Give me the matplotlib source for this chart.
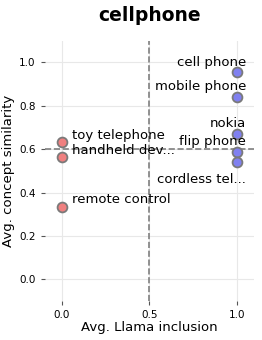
import numpy as np
import matplotlib.pyplot as plt

# data
left_names = ['toy telephone', 'handheld dev...', 'remote control']
left_x = [0.0, 0.0, 0.0]
left_y = [0.635, 0.562, 0.335]

right_names = ['cell phone', 'mobile phone', 'nokia', 'flip phone', 'cordless tel...']
right_x = [1.0, 1.0, 1.0, 1.0, 1.0]
right_y = [0.957, 0.842, 0.672, 0.585, 0.543]

# label positions (data coords) for the labels
right_label_y = [1.0, 0.89, 0.72, 0.635, 0.46]
left_label_y = [0.665, 0.595, 0.37]

fig, ax = plt.subplots(figsize=(2.62, 3.4), dpi=100)

ax.scatter(left_x, left_y, s=50, color='#f08080', edgecolor='#7a7a7a', linewidth=1.3, zorder=3)
ax.scatter(right_x, right_y, s=50, color='#8080f0', edgecolor='#7a7a7a', linewidth=1.3, zorder=3)

for name, ly in zip(left_names, left_label_y):
    ax.text(0.06, ly, name, fontsize=9.5, ha='left', va='center', zorder=4)
for name, ly in zip(right_names, right_label_y):
    ax.text(1.055, ly, name, fontsize=9.5, ha='right', va='center', zorder=4)

ax.axvline(0.5, color='gray', linestyle='--', linewidth=1.2, zorder=2)
ax.axhline(0.6, color='gray', linestyle='--', linewidth=1.2, zorder=2)

ax.set_xlim(-0.1, 1.1)
ax.set_ylim(-0.1, 1.1)
ax.set_xticks([0.0, 0.5, 1.0])
ax.set_yticks([0.0, 0.2, 0.4, 0.6, 0.8, 1.0])
ax.tick_params(labelsize=7.5, length=3, color='#555555', width=0.8)
ax.grid(True, color='#e8e8e8', linewidth=0.8, zorder=0)
for s in ax.spines.values():
    s.set_visible(False)

ax.set_xlabel('Avg. Llama inclusion', fontsize=9.5, labelpad=1)
ax.set_ylabel('Avg. concept similarity', fontsize=9.5, labelpad=3)
ax.set_title('cellphone', fontsize=13.5, fontweight='bold', pad=14)

plt.subplots_adjust(left=0.17, right=0.97, top=0.88, bottom=0.115)
plt.savefig('out.png', dpi=100)
